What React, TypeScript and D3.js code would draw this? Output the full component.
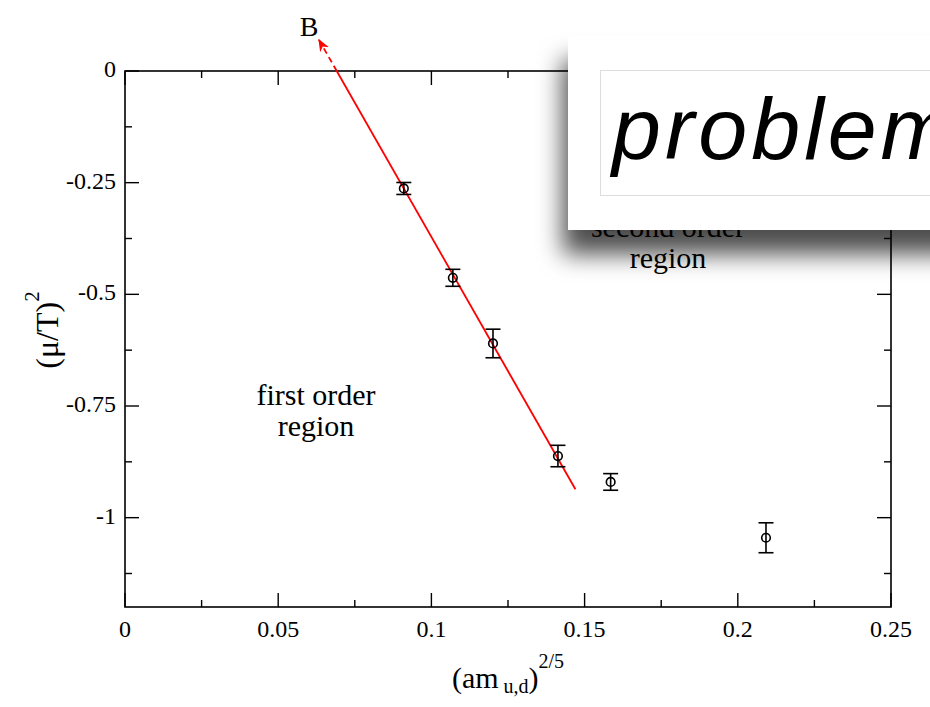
import React from "react";
import * as d3 from "d3";

// Measured points: (am_ud)^(2/5) vs (mu/T)^2 with symmetric error bars
const xVals = [0.091, 0.107, 0.1201, 0.1413, 0.1585, 0.2092];
const yVals = [-0.263, -0.463, -0.61, -0.862, -0.92, -1.045];
const yErrs = [0.0134, 0.019, 0.032, 0.024, 0.0186, 0.0335];

// Linear fit through the first four points
const fitSlope = -12.02;
const fitIntercept = 0.8306;
const fitSolidRange = [0.0691, 0.147];
const fitArrowRange = [0.0691, 0.0633];

const xMajorTicks = [0, 0.05, 0.1, 0.15, 0.2, 0.25];
const xMinorTicks = [0.025, 0.075, 0.125, 0.175, 0.225];
const xTickLabels = ["0", "0.05", "0.1", "0.15", "0.2", "0.25"];
const yMajorTicks = [0, -0.25, -0.5, -0.75, -1];
const yMinorTicks = [-0.125, -0.375, -0.625, -0.875, -1.125];
const yTickLabels = ["0", "-0.25", "-0.5", "-0.75", "-1"];

const W = 930;
const H = 707;
const L = 125, R = 891, T = 71, B = 607;
const serif = "'Liberation Serif', 'Times New Roman', serif";

export default function App() {
  const x = d3.scaleLinear().domain([0, 0.25]).range([L, R]);
  const y = d3.scaleLinear().domain([0, -1.2]).range([T, B]);
  const fit = (v: number) => fitIntercept + fitSlope * v;
  const majorLen = 14;
  const minorLen = 7;
  const capHalf = 7.5;

  return (
    <svg
      width={W}
      height={H}
      style={{ position: "absolute", left: 0, top: 0, background: "#fff" }}
      fontFamily={serif}
    >
      <defs>
        <filter id="boxShadow" x="-20%" y="-40%" width="140%" height="200%">
          <feDropShadow dx={-5} dy={24} stdDeviation={12} floodColor="#000" floodOpacity={0.7} />
        </filter>
        <marker id="arrowHead" viewBox="0 0 10 10" refX={9} refY={5} markerWidth={7} markerHeight={7} orient="auto">
          <path d="M0,1 L10,5 L0,9 L3,5 Z" fill="red" />
        </marker>
      </defs>
      <rect x={0} y={0} width={W} height={H} fill="#fff" />

      {/* frame */}
      <rect x={L} y={T} width={R - L} height={B - T} fill="none" stroke="#000" strokeWidth={1.6} />

      {/* x ticks on bottom and top */}
      {xMajorTicks.map((t, i) => (
        <g key={"xM" + i}>
          <line x1={x(t)} x2={x(t)} y1={B} y2={B - majorLen} stroke="#000" strokeWidth={1.4} />
          <line x1={x(t)} x2={x(t)} y1={T} y2={T + majorLen} stroke="#000" strokeWidth={1.4} />
          <text x={x(t)} y={637} textAnchor="middle" fontSize={24}>{xTickLabels[i]}</text>
        </g>
      ))}
      {xMinorTicks.map((t, i) => (
        <g key={"xm" + i}>
          <line x1={x(t)} x2={x(t)} y1={B} y2={B - minorLen} stroke="#000" strokeWidth={1.4} />
          <line x1={x(t)} x2={x(t)} y1={T} y2={T + minorLen} stroke="#000" strokeWidth={1.4} />
        </g>
      ))}

      {/* y ticks on left and right */}
      {yMajorTicks.map((t, i) => (
        <g key={"yM" + i}>
          <line x1={L} x2={L + majorLen} y1={y(t)} y2={y(t)} stroke="#000" strokeWidth={1.4} />
          <line x1={R} x2={R - majorLen} y1={y(t)} y2={y(t)} stroke="#000" strokeWidth={1.4} />
          <text x={116} y={y(t) + 6} textAnchor="end" fontSize={24}>{yTickLabels[i]}</text>
        </g>
      ))}
      {yMinorTicks.map((t, i) => (
        <g key={"ym" + i}>
          <line x1={L} x2={L + minorLen} y1={y(t)} y2={y(t)} stroke="#000" strokeWidth={1.4} />
          <line x1={R} x2={R - minorLen} y1={y(t)} y2={y(t)} stroke="#000" strokeWidth={1.4} />
        </g>
      ))}

      {/* axis titles */}
      <text x={508} y={688} textAnchor="middle" fontSize={30}>
        (am
        <tspan fontSize={20} dy={5}>{" u,d"}</tspan>
        <tspan dy={-5}>)</tspan>
        <tspan fontSize={20} dy={-20}>2/5</tspan>
      </text>
      <text transform="translate(58,330) rotate(-90)" textAnchor="middle" fontSize={32}>
        (μ/T)
        <tspan fontSize={21} dy={-19}>2</tspan>
      </text>

      {/* region annotations */}
      <text x={316} y={405} textAnchor="middle" fontSize={30}>first order</text>
      <text x={316} y={436} textAnchor="middle" fontSize={30}>region</text>
      <text x={668} y={237} textAnchor="middle" fontSize={30}>second order</text>
      <text x={668} y={268} textAnchor="middle" fontSize={30}>region</text>

      {/* fit line and extrapolation arrow towards B */}
      <line
        x1={x(fitSolidRange[0])} y1={y(fit(fitSolidRange[0]))}
        x2={x(fitSolidRange[1])} y2={y(fit(fitSolidRange[1]))}
        stroke="red" strokeWidth={1.8}
      />
      <line
        x1={x(fitArrowRange[0])} y1={y(fit(fitArrowRange[0]))}
        x2={x(fitArrowRange[1])} y2={y(fit(fitArrowRange[1]))}
        stroke="red" strokeWidth={1.8} strokeDasharray="6,4" markerEnd="url(#arrowHead)"
      />
      <text x={309} y={36} textAnchor="middle" fontSize={28}>B</text>

      {/* data points with error bars */}
      {xVals.map((xv, i) => {
        const cx = x(xv);
        const cy = y(yVals[i]);
        const yt = y(yVals[i] + yErrs[i]);
        const yb = y(yVals[i] - yErrs[i]);
        return (
          <g key={"p" + i} stroke="#000" strokeWidth={1.6} fill="none">
            <line x1={cx} x2={cx} y1={yt} y2={yb} />
            <line x1={cx - capHalf} x2={cx + capHalf} y1={yt} y2={yt} />
            <line x1={cx - capHalf} x2={cx + capHalf} y1={yb} y2={yb} />
            <circle cx={cx} cy={cy} r={4.3} fill="none" />
          </g>
        );
      })}

      {/* overlaid callout panel */}
      <g>
        <rect x={568} y={36} width={420} height={194} fill="#fff" filter="url(#boxShadow)" />
        <rect x={600.5} y={70.5} width={400} height={125} fill="#fff" stroke="#ddd" strokeWidth={1} />
        <text
          x={612}
          y={159}
          fontFamily="'Liberation Sans', Arial, Helvetica, sans-serif"
          fontStyle="italic"
          fontSize={88}
          letterSpacing={4}
          fill="#000"
        >
          problem
        </text>
      </g>
    </svg>
  );
}
